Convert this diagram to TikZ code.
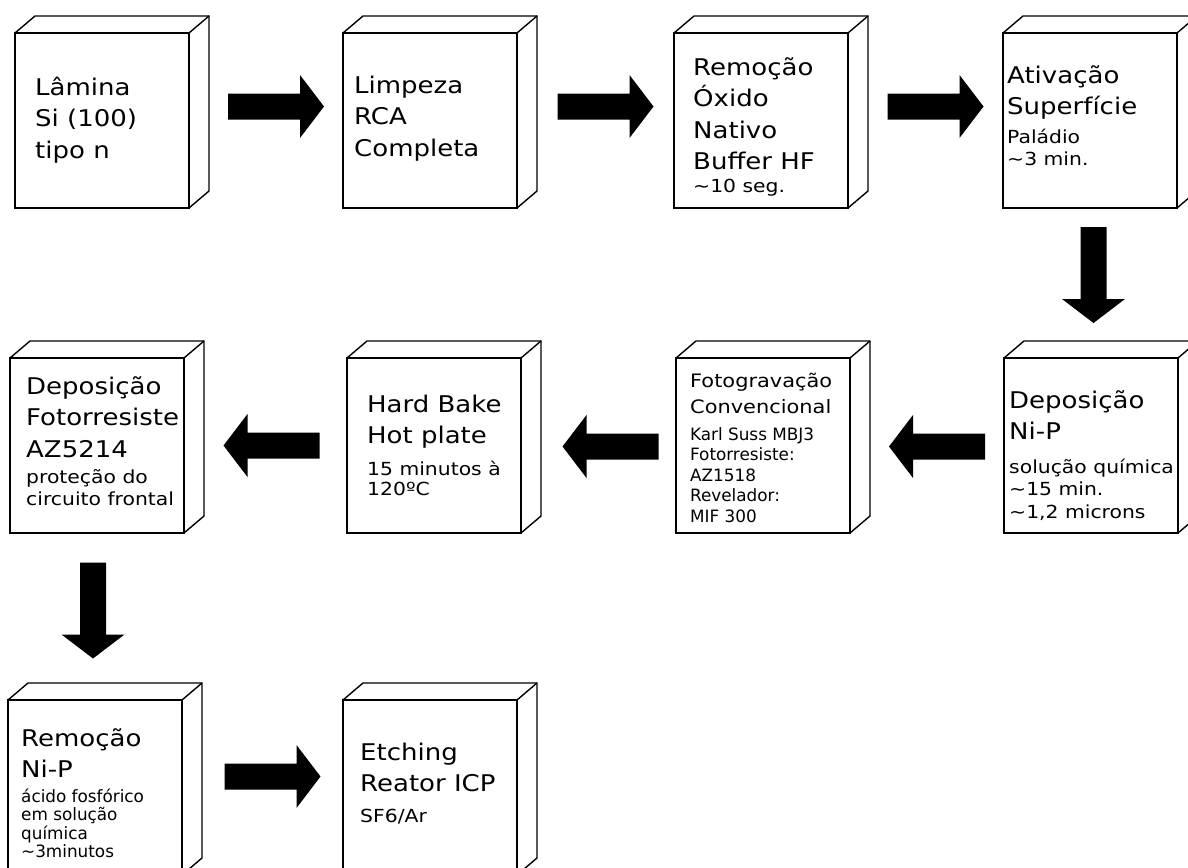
\documentclass[tikz,border=0pt]{standalone}
\usepackage{fontspec}
\setmainfont{DejaVu Sans}[FakeStretch=1.13]
\newfontfamily\condfont{DejaVu Sans Condensed}[FakeStretch=1.1]
\usetikzlibrary{calc,positioning}

\newcommand\bigtxt{\fontsize{23}{31.5}\selectfont}
\newcommand\midtxt{\fontsize{18.5}{26}\selectfont}
\newcommand\smalltxt{\fontsize{18}{22.5}\selectfont}
\newcommand\tinytxt{\condfont\fontsize{17}{20.5}\selectfont}
%% fixed first line, so the given point is the first baseline
\newcommand\topstrut{\rule{0pt}{25pt}}

\tikzset{
  boxline/.style={line width=1.4pt},
  stepbox/.style={boxline,draw,fill=white,minimum width=174pt,minimum height=175pt,
    inner sep=0pt,outer sep=0pt,anchor=north west},
  stepline/.style={anchor=north west,inner sep=0pt,align=left,yshift=25pt},
  steptitle/.style={stepline,font=\bigtxt},
  stepnote/.style={stepline,font=\smalltxt},
  fatarrow/.pic={\fill (-48,-13) -- (24,-13) -- (24,-31.5) -- (48,0)
    -- (24,31.5) -- (24,13) -- (-48,13) -- cycle;}
}

\begin{document}
\begin{tikzpicture}[x=1pt,y=-1pt]
        \useasboundingbox (0,0) rectangle (1188,867);
        \clip (0,0) rectangle (1188,867);
        %% process steps
        \node[stepbox] (lamina) at (15,33) {};
        \node[stepbox] (rca) at (343,33) {};
        \node[stepbox] (hf) at (674,33) {};
        \node[stepbox] (pd) at (1003,33) {};
        \node[stepbox] (nip) at (1004,358) {};
        \node[stepbox] (foto) at (676,358) {};
        \node[stepbox] (bake) at (347,358) {};
        \node[stepbox] (az) at (10,358) {};
        \node[stepbox] (rem) at (8,700) {};
        \node[stepbox] (icp) at (343,700) {};
        %% depth of each box
        \foreach \b in {lamina,rca,hf,pd,nip,foto,bake,az,rem,icp} {
            \draw[boxline] (\b.north west) -- ++(20,-17) -| ($(\b.south east)+(20,-17)$) -- (\b.south east);
            \draw[boxline] (\b.north east) -- ++(20,-17);
        }
        %% labels
        \node[steptitle] (lamina-t) at ($(lamina.north west)+(20,62)$) {\topstrut Lâmina\\Si (100)\\tipo n};
        \node[steptitle] (rca-t) at ($(rca.north west)+(11,60)$) {\topstrut Limpeza\\RCA\\Completa};
        \node[steptitle] (hf-t) at ($(hf.north west)+(19,42)$) {\topstrut Remoção\\Óxido\\Nativo\\Buffer HF};
        \node[stepnote] (hf-s) at ($(hf.north west)+(19,159)$) {\topstrut\textasciitilde10 seg.};
        \node[steptitle] (pd-t) at ($(pd.north west)+(4,50)$) {\topstrut Ativação\\Superfície};
        \node[stepnote] (pd-s) at ($(pd.north west)+(4,110)$) {\topstrut Paládio\\\textasciitilde3 min.};
        \node[steptitle] (nip-t) at ($(nip.north west)+(5,50)$) {\topstrut Deposição\\Ni-P};
        \node[stepnote] (nip-s) at ($(nip.north west)+(5,115)$) {\topstrut solução química\\\textasciitilde15 min.\\\textasciitilde1,2 microns};
        \node[steptitle,font=\midtxt] (foto-t) at ($(foto.north west)+(14,29)$) {\topstrut Fotogravação\\Convencional};
        \node[stepnote,font=\tinytxt] (foto-s) at ($(foto.north west)+(14,82)$) {\topstrut Karl Suss MBJ3\\Fotorresiste:\\AZ1518\\Revelador:\\MIF 300};
        \node[steptitle] (bake-t) at ($(bake.north west)+(20,54)$) {\topstrut Hard Bake\\Hot plate};
        \node[stepnote,font=\fontsize{18}{20.5}\selectfont] (bake-s) at ($(bake.north west)+(20,117)$) {\topstrut 15 minutos à\\120ºC};
        \node[steptitle] (az-t) at ($(az.north west)+(16,36)$) {\topstrut Deposição\\Fotorresiste\\AZ5214};
        \node[stepnote] (az-s) at ($(az.north west)+(16,125)$) {\topstrut proteção do\\circuito frontal};
        \node[steptitle] (rem-t) at ($(rem.north west)+(13,46)$) {\topstrut Remoção\\Ni-P};
        \node[stepnote,font=\tinytxt\fontsize{17}{18.5}\selectfont] (rem-s) at ($(rem.north west)+(13,102)$) {\topstrut ácido fosfórico\\em solução\\química\\\textasciitilde3minutos};
        \node[steptitle] (icp-t) at ($(icp.north west)+(17,60)$) {\topstrut Etching\\Reator ICP};
        \node[stepnote] (icp-s) at ($(icp.north west)+(17,122)$) {\topstrut SF6/Ar};
        %% arrows between the steps
        \pic (a1) at ($(lamina.east)!0.5!(rca.west)+(10,-14)$) {fatarrow};
        \pic (a2) at ($(rca.east)!0.5!(hf.west)+(10,-14)$) {fatarrow};
        \pic (a3) at ($(hf.east)!0.5!(pd.west)+(10,-14)$) {fatarrow};
        \pic[rotate=-90] (a4) at ($(pd.south)!0.5!(nip.north)+(3,-8)$) {fatarrow};
        \pic[rotate=180] (a5) at ($(nip.west)!0.5!(foto.east)+(10,1)$) {fatarrow};
        \pic[rotate=180] (a6) at ($(foto.west)!0.5!(bake.east)+(12,1)$) {fatarrow};
        \pic[rotate=180] (a7) at ($(bake.west)!0.5!(az.east)+(6,0)$) {fatarrow};
        \pic[rotate=-90] (a8) at ($(az.south)!0.5!(rem.north)+(-3,-6)$) {fatarrow};
        \pic (a9) at ($(rem.east)!0.5!(icp.west)+(10,-11)$) {fatarrow};
    \end{tikzpicture}
\end{document}
